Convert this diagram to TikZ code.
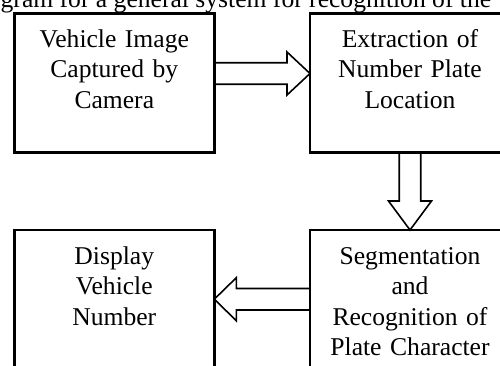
\documentclass[tikz,border=0pt]{standalone}
\usepackage{fontspec}
\setmainfont{Liberation Serif}
\usetikzlibrary{positioning,calc}

\begin{document}
\begin{tikzpicture}[x=1pt,y=1pt,
  block/.style={rectangle,draw,line width=2.6pt,text width=200pt,align=center,inner sep=0pt,outer sep=0pt,
    text height=34pt,text depth=105pt,font=\fontsize{25.6}{30.6}\selectfont},
  fatarrow/.style={draw,line width=1.6pt,line join=miter,
    to path={let \p1=(\tikztostart), \p2=(\tikztotarget),
      \n1={atan2(\y2-\y1,\x2-\x1)}, \n2={veclen(\x2-\x1,\y2-\y1)} in
      ([shift={(\p1)},rotate=\n1]0,10.75) -- ([shift={(\p1)},rotate=\n1]\n2-#1,10.75)
      -- ([shift={(\p1)},rotate=\n1]\n2-#1,21.5) -- (\p2)
      -- ([shift={(\p1)},rotate=\n1]\n2-#1,-21.5) -- ([shift={(\p1)},rotate=\n1]\n2-#1,-10.75)
      -- ([shift={(\p1)},rotate=\n1]0,-10.75)}},
  fatarrow/.default=24pt]
\useasboundingbox (0,0) rectangle (500,-365);
  %\draw[help lines,step=50] (0,-365) grid (500,0);
\node[anchor=base west,inner sep=0pt,font=\fontsize{25.6}{30}\selectfont] (cap) at (0.5,-7) {gram for a general system for recognition of the};
\node[block] (veh) at (114.3,-82.8) {Vehicle Image\\Captured by\\Camera};
\node[block,right=95.7pt of veh] (ext) {Extraction of\\Number Plate\\Location};
\node[block,below=77.7pt of ext] (seg) {Segmentation\\and\\Recognition of\\Plate Character};
\node[block,below=77.7pt of veh] (disp) {Display\\Vehicle\\Number};
% hollow arrows
\coordinate (a1s) at ([yshift=-60.2pt]veh.north east);
\coordinate (a1t) at ([yshift=-60.2pt]ext.north west);
\coordinate (a3s) at ([yshift=-69.2pt]seg.north west);
\coordinate (a3t) at ([yshift=-69.2pt]disp.north east);
\draw[fatarrow=23pt] (a1s) to (a1t);
\draw[fatarrow=29pt] (ext.south) to (seg.north);
\draw[fatarrow=22pt] (a3s) to (a3t);
\end{tikzpicture}
\end{document}
